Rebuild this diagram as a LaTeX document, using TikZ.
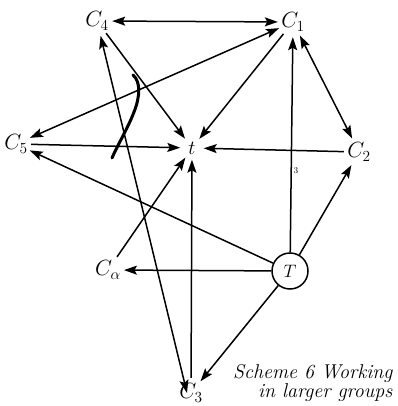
\RequirePackage{fix-cm}
\documentclass[tikz,border=0pt]{standalone}
\usetikzlibrary{arrows.meta}
\begin{document}
\begin{tikzpicture}[x=1pt,y=-1pt,
  lab/.style={circle,inner sep=0pt,minimum size=30pt,font=\fontsize{22}{24}\selectfont},
  tlab/.style={circle,inner sep=0pt,minimum size=23pt,font=\fontsize{20}{22}\selectfont},
  bigT/.style={circle,draw,line width=1.5pt,inner sep=0pt,minimum size=36pt,font=\fontsize{18}{20}\selectfont},
  con/.style={line width=1.5pt},
  tip/.style={-{Stealth[length=13pt,width=9pt,inset=2.5pt]}},
  bitip/.style={{Stealth[length=13pt,width=9pt,inset=2.5pt]}-{Stealth[length=13pt,width=9pt,inset=2.5pt]}}]
\useasboundingbox (0,0) rectangle (397,406);
\node[lab] (C4) at (97,21) {$C_4$};
\node[lab] (C1) at (293,22) {$C_1$};
\node[lab] (C5) at (16,144) {$C_5$};
\node[tlab] (t) at (192,148) {$t$};
\node[lab] (C2) at (359,152) {$C_2$};
\node[lab] (Ca) at (108,270) {$C_\alpha$};
\node[bigT] (T) at (290,271) {$T$};
\node[lab,minimum size=24pt] (C3) at (191,393) {$C_3$};
\node[anchor=east,align=right,font=\fontsize{20}{19}\selectfont\itshape] (cap) at (396,383) {Scheme 6 Working\\in larger groups};
\node[font=\fontsize{9}{10}\selectfont] (mk) at (296,171) {3};
% connectors
\draw[con,bitip] (C4) -- (C1);
\draw[con,bitip] (C1) -- (C5);
\draw[con,tip] (C1) -- (t);
\draw[con,bitip] (C1) -- (C2);
\draw[con,tip] (C2) -- (t);
\draw[con,tip] (T) -- (C1);
\draw[con,tip] (T) -- (C2);
\draw[con,tip] (T) -- (C5);
\draw[con,tip] (T) -- (Ca);
\draw[con,tip] (T) -- (C3);
\draw[con,tip] (C4) -- (t);
\draw[con,bitip] (C4) -- ([xshift=-4pt]C3.center);
\draw[con,tip] (C5) -- (t);
\draw[con,tip] (Ca) -- (t);
\draw[con,tip] (C3) -- (t);
% hand-drawn stroke
\draw[line width=3pt,line cap=round] (133,75) .. controls (141,82) and (140,97) .. (134,112) .. controls (128,128) and (118,144) .. (112,158);
\end{tikzpicture}
\end{document}
